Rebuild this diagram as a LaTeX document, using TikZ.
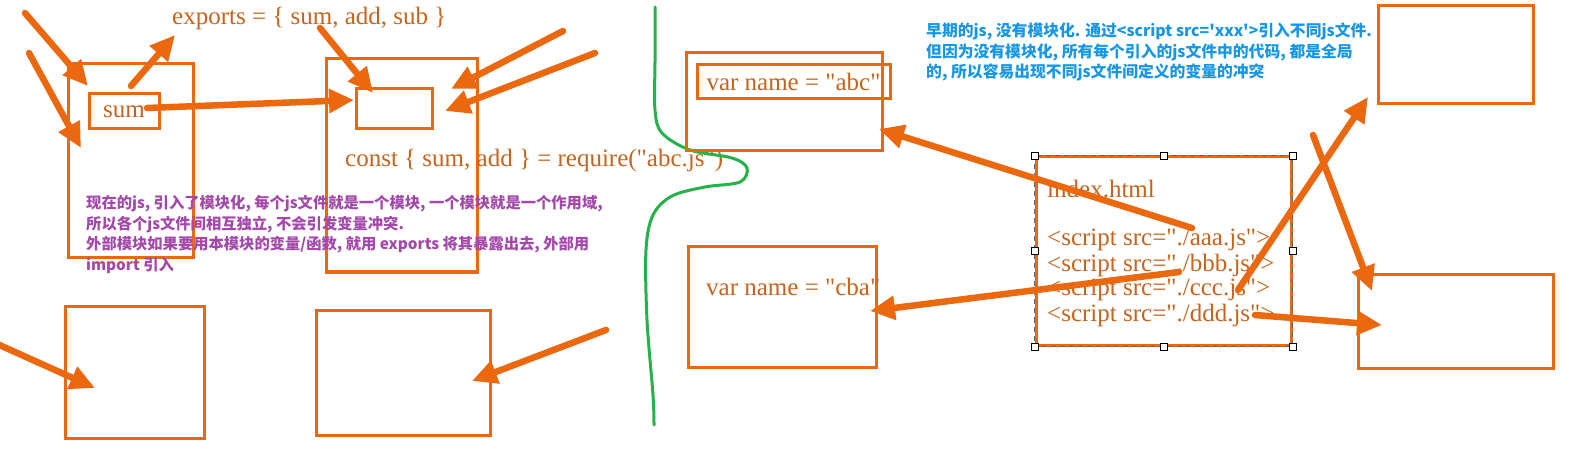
\documentclass[tikz,border=0pt]{standalone}
\usepackage{fontspec}
\setmainfont{Liberation Serif}[Ligatures=TeXOff]
\newfontfamily\cjk{Noto Sans CJK SC}[Ligatures=TeXOff]
\usetikzlibrary{arrows.meta}
\definecolor{orng}{RGB}{236,104,14}
\definecolor{txto}{RGB}{198,100,30}
\definecolor{purp}{RGB}{163,72,170}
\definecolor{blu}{RGB}{22,150,228}
\definecolor{grn}{RGB}{38,178,74}
\tikzset{
  box/.style={draw=orng, line width=3bp, inner sep=0pt, minimum width=#1},
  serif/.style={text=txto, font=\fontsize{25bp}{30bp}\selectfont, inner sep=0pt},
  arr/.style={draw=orng, line width=6.5bp, line cap=round, -{Triangle[length=25bp,width=23bp]}},
  note/.style={font=\cjk\bfseries\fontsize{#1}{20.5bp}\selectfont, align=left, inner sep=0pt, anchor=west},
  handle/.style={draw=black, fill=white, line width=0.8bp, minimum size=7bp, inner sep=0pt},
}
\begin{document}
\begin{tikzpicture}[x=1bp,y=-1bp]
\useasboundingbox (0,0) rectangle (1577,451);
\fill[white] (0,0) rectangle (1577,451);

% ---- left part boxes
\node[box=125bp, minimum height=194bp] (lb1) at (130.5,161) {};
\node[box=151bp, minimum height=213bp] (cb) at (401.5,165.5) {};
\node[box=76bp, minimum height=40bp] (ib) at (394,109) {};
\node[box=70bp, minimum height=35bp, serif] (sb) at (124,111.5) {sum};
\node[box=139bp, minimum height=131bp] (bl1) at (134.5,372.5) {};
\node[box=174bp, minimum height=124bp] (bl2) at (403,373) {};

\node[serif, anchor=west] (exp) at (172,18) {exports = \{ sum, add, sub \}};
\node[serif, anchor=west] (req) at (345,160) {const \{ sum, add \} = require("abc.js")};

\node[note=15.3bp, text=purp] (pnote) at (86,234.5) {现在的js, 引入了模块化, 每个js文件就是一个模块, 一个模块就是一个作用域,\\所以各个js文件间相互独立, 不会引发变量冲突.\\外部模块如果要用本模块的变量/函数, 就用 exports 将其暴露出去, 外部用\\import 引入};

% ---- green divider
\draw[grn, line width=3bp, line cap=round] plot[smooth, tension=0.55] coordinates
 {(655,7) (655,60) (655,110) (662,133) (690,150) (732,158) (747,168) (740,182) (705,187) (672,196) (653,215) (646,250) (647,320) (653,395) (654,425)};

% ---- right part boxes
\node[box=196bp, minimum height=98bp] (vo) at (784,102) {};
\node[box=193bp, minimum height=34bp, serif] (va) at (793.5,82) {var name = "abc"};
\node[box=188bp, minimum height=120bp] (vc) at (782,307) {};
\node[serif, anchor=west] (vct) at (706,287) {var name = "cba"};

\node[box=255bp, minimum height=188bp] (idx) at (1163.5,251) {};
\draw[black!60, line width=1.2bp, dash pattern=on 5bp off 4bp] (idx.north west) rectangle (idx.south east);
\node[handle] (h1) at (idx.north west) {};
\node[handle] (h2) at (idx.north) {};
\node[handle] (h3) at (idx.north east) {};
\node[handle] (h4) at (idx.west) {};
\node[handle] (h5) at (idx.east) {};
\node[handle] (h6) at (idx.south west) {};
\node[handle] (h7) at (idx.south) {};
\node[handle] (h8) at (idx.south east) {};

\node[serif, anchor=west] (ih) at (1047,189) {index.html};
\node[serif, anchor=west] (s1) at (1047,240) {<script src="./aaa.js">};
\node[serif, anchor=west] (s2) at (1047,265) {<script src="./bbb.js">};
\node[serif, anchor=west] (s3) at (1047,290) {<script src="./ccc.js">};
\node[serif, anchor=west] (s4) at (1047,315) {<script src="./ddd.js">};

\node[box=155bp, minimum height=98bp] (tr) at (1455.5,55) {};
\node[box=195bp, minimum height=93bp] (br) at (1455.5,321.5) {};

\node[note=15.8bp, text=blu] (bnote) at (926,52) {早期的js, 没有模块化. 通过<script src='xxx'>引入不同js文件.\\但因为没有模块化, 所有每个引入的js文件中的代码, 都是全局\\的, 所以容易出现不同js文件间定义的变量的冲突};

% ---- arrow end points
\coordinate (a1s) at (25,13);   \coordinate (a1e) at (88,86);
\coordinate (a2s) at (29,53);   \coordinate (a2e) at (81,148);
\coordinate (a3s) at (131,86);  \coordinate (a3e) at (175,35);
\coordinate (a4s) at (147,108); \coordinate (a4e) at (354,100);
\coordinate (a5s) at (320,28);  \coordinate (a5e) at (373,93);
\coordinate (a6s) at (563,31);  \coordinate (a6e) at (451,89);
\coordinate (a7s) at (595,53);  \coordinate (a7e) at (445,111);
\coordinate (a8s) at (-5,343);  \coordinate (a8e) at (95,388);
\coordinate (a9s) at (606,330); \coordinate (a9e) at (472,381);
\coordinate (a10s) at (1192,228); \coordinate (a10e) at (879,129);
\coordinate (a11s) at (1179,272); \coordinate (a11e) at (870,311);
\coordinate (a12s) at (1238,290); \coordinate (a12e) at (1368,97);
\coordinate (a13s) at (1313,135); \coordinate (a13e) at (1372,291);
\coordinate (a14s) at (1255,315); \coordinate (a14e) at (1382,325);

\foreach \i in {1,...,14} \draw[arr] (a\i s) -- (a\i e);
\end{tikzpicture}
\end{document}
